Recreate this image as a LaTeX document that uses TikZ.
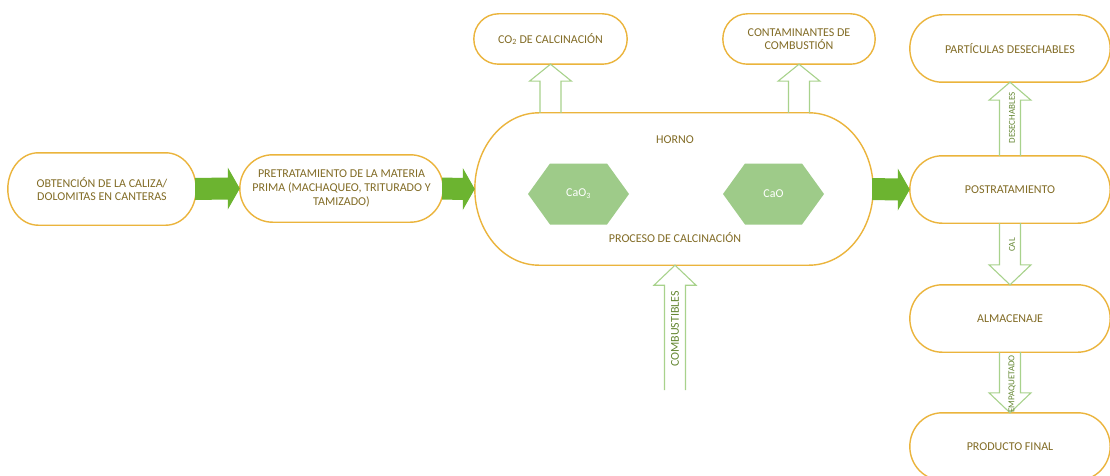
\documentclass[tikz,border=0pt]{standalone}
\usepackage{fontspec}
\setmainfont{Carlito}
\usetikzlibrary{calc}
\definecolor{boxcol}{RGB}{235,180,60}
\definecolor{txtcol}{RGB}{130,108,38}
\definecolor{garrowcol}{RGB}{108,180,48}
\definecolor{hexcol}{RGB}{158,203,137}
\definecolor{hollowcol}{RGB}{168,210,140}
\definecolor{lblcol}{RGB}{100,135,50}
\tikzset{
  boxline/.style={draw=boxcol, line width=1.4pt},
  boxtext/.style={text=txtcol, align=center, font=\fontsize{12}{13.5}\selectfont, inner sep=0pt},
  hollow/.style={draw=hollowcol, line width=1.1pt, line join=miter},
  hextext/.style={text=white, font=\fontsize{12}{13}\selectfont},
  arrlabel/.style={text=lblcol, rotate=90, font=\fontsize{9}{10}\selectfont, inner sep=0pt},
}
\newcommand\termshape[1]{%
  \draw[boxline] let \p1=(#1.north west), \p2=(#1.south east),
    \n1={0.161*(\x2-\x1)}, \n2={(\y1-\y2)/2} in
    (\x1+\n1,\y1) -- (\x2-\n1,\y1)
    arc[start angle=90, end angle=-90, x radius=\n1, y radius=\n2]
    -- (\x1+\n1,\y2)
    arc[start angle=270, end angle=90, x radius=\n1, y radius=\n2] -- cycle;}
\newcommand\hexshape[1]{%
  \fill[hexcol] ($(#1)+(-50.5,0)$) -- ($(#1)+(-28.5,-30.5)$) -- ($(#1)+(28.5,-30.5)$)
    -- ($(#1)+(50.5,0)$) -- ($(#1)+(28.5,30.5)$) -- ($(#1)+(-28.5,30.5)$) -- cycle;}
% #1 tip, #2 base, #3 signed head length (pixel y)
\newcommand\hollowarr[3]{%
  \draw[hollow] ($(#2)+(-10.5,0)$) -- ($(#1)+(-10.5,#3)$) -- ($(#1)+(-21,#3)$) -- (#1)
    -- ($(#1)+(21,#3)$) -- ($(#1)+(10.5,#3)$) -- ($(#2)+(10.5,0)$);}
\newcommand\greenarr[2]{%
  \fill[garrowcol] ($(#1.east)+(-1,-11)$) -- ($(#2.west)+(-12,-11)$) -- ($(#2.west)+(-12,-21)$)
    -- (#2.west) -- ($(#2.west)+(-12,21)$) -- ($(#2.west)+(-12,11)$) -- ($(#1.east)+(-1,11)$) -- cycle;}
\begin{document}
\begin{tikzpicture}[x=1pt, y=-1pt]
\useasboundingbox[fill=white] (0,0) rectangle (1110,476);

% main boxes
\node[boxtext, font=\fontsize{12}{12.5}\selectfont, minimum width=188pt, minimum height=72pt] (obt) at (102,189)
  {OBTENCIÓN DE LA CALIZA/\\DOLOMITAS EN CANTERAS};
\node[boxtext, font=\fontsize{12}{14}\selectfont, minimum width=203pt, minimum height=67pt] (pre) at (341.5,188.5)
  {PRETRATAMIENTO DE LA MATERIA\\PRIMA (MACHAQUEO, TRITURADO Y\\TAMIZADO)};
\node[minimum width=398pt, minimum height=152pt, inner sep=0pt] (horno) at (674,189) {};
\node[boxtext, minimum width=153pt, minimum height=50pt] (co2) at (550.5,39)
  {CO\textsubscript{2} DE CALCINACIÓN};
\node[boxtext, minimum width=152pt, minimum height=50pt] (cont) at (799,39)
  {CONTAMINANTES DE\\COMBUSTIÓN};
\node[boxtext, minimum width=200pt, minimum height=67pt] (part) at (1010,48.5)
  {PARTÍCULAS DESECHABLES};
\node[boxtext, minimum width=200pt, minimum height=67pt] (post) at (1010,189.5)
  {POSTRATAMIENTO};
\node[boxtext, minimum width=200pt, minimum height=67pt] (alm) at (1010,318.5)
  {ALMACENAJE};
\node[boxtext, minimum width=200pt, minimum height=67pt] (prod) at (1010,446.5)
  {PRODUCTO FINAL};

\foreach \b in {obt,pre,horno,co2,cont,part,post,alm,prod} {\termshape{\b}}

% inside the furnace
\node[boxtext] (hornolbl) at (675,140) {HORNO};
\node[boxtext] (proclbl) at (675,238) {PROCESO DE CALCINACIÓN};
\coordinate (h1) at (578.5,194);
\coordinate (h2) at (773.5,194);
\hexshape{h1}
\hexshape{h2}
\node[hextext] (caco) at (h1) {CaO\textsubscript{3}};
\node[hextext] (cao) at (h2) {CaO};

% solid green arrows
\greenarr{obt}{pre}
\greenarr{pre}{horno}
\greenarr{horno}{post}

% hollow arrows
\coordinate (co2base) at (co2.south |- horno.north);
\coordinate (contbase) at (cont.south |- horno.north);
\coordinate (combbase) at (675,390);
\coordinate (combtip) at (combbase |- horno.south);
\hollowarr{co2.south}{co2base}{17}
\hollowarr{cont.south}{contbase}{17}
\hollowarr{combtip}{combbase}{20}
\hollowarr{part.south}{post.north}{18}
\hollowarr{alm.north}{post.south}{-20}
\hollowarr{prod.north}{alm.south}{-20}

% arrow labels
\node[arrlabel, font=\fontsize{12}{13}\selectfont] (lcomb) at (675,329) {COMBUSTIBLES};
\node[arrlabel] (ldes) at (1012,118) {DESECHABLES};
\node[arrlabel] (lcal) at (1012,245) {CAL};
\node[arrlabel] (lemp) at (1012,384) {EMPAQUETADO};
\end{tikzpicture}
\end{document}
